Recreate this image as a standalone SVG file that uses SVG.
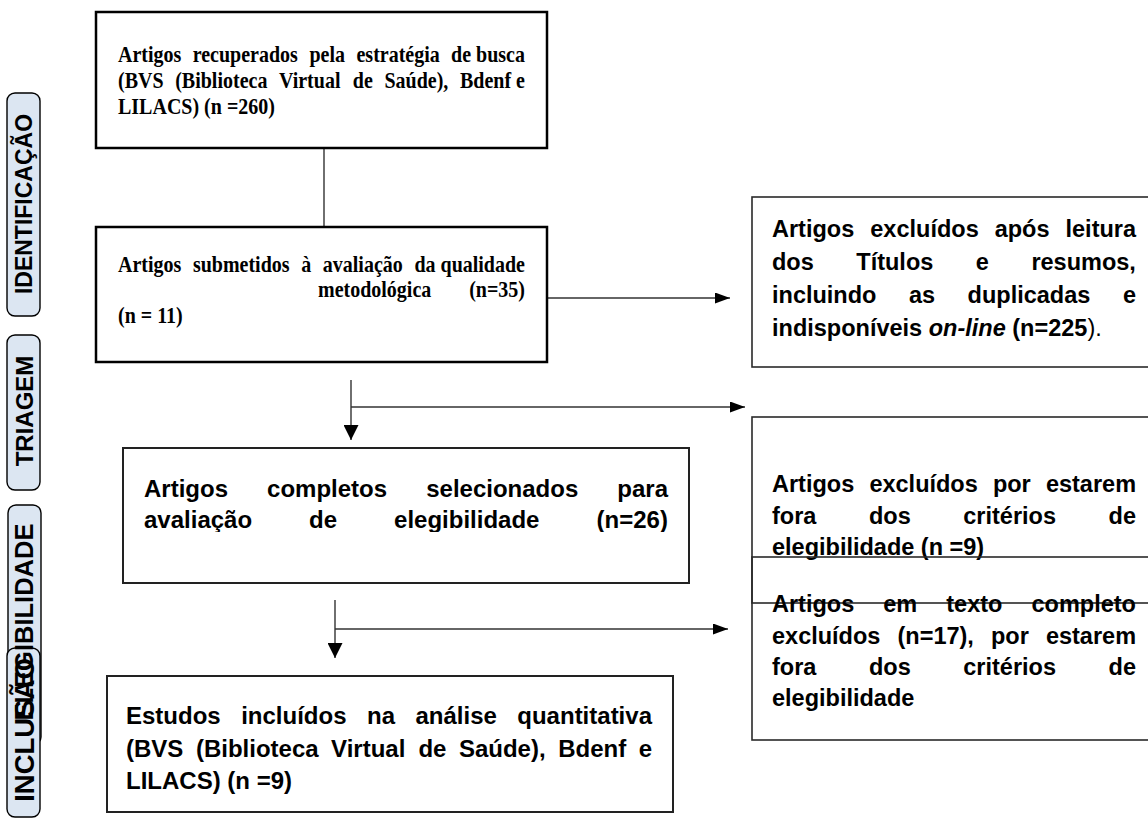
<svg xmlns="http://www.w3.org/2000/svg" width="1148" height="820" viewBox="0 0 1148 820">
<defs>
<style>
.serif{font-family:"Liberation Serif","Times New Roman",serif;font-weight:bold;font-size:20px;fill:#000}
.sans{font-family:"Liberation Sans",Arial,sans-serif;font-weight:bold;font-size:23.5px;fill:#000}
.sans24{font-family:"Liberation Sans",Arial,sans-serif;font-weight:bold;font-size:24px;fill:#000}
.side{font-family:"Liberation Sans",Arial,sans-serif;font-weight:bold;fill:#000}
.sidebox{fill:#dce6f2;stroke:#000;stroke-width:1.4}
.box1{fill:#fff;stroke:#000;stroke-width:2.5}
.box3{fill:#fff;stroke:#222;stroke-width:2}
.rbox{fill:none;stroke:#2a2a2a;stroke-width:1.6}
.conn{stroke:#333;stroke-width:1.4;fill:none}
</style>
<marker id="ahH" markerUnits="userSpaceOnUse" markerWidth="15" markerHeight="11" refX="15" refY="5.5" orient="auto"><path d="M0,0 L15,5.5 L0,11 z" fill="#000"/></marker>
<marker id="ahV" markerUnits="userSpaceOnUse" markerWidth="15" markerHeight="15" refX="15" refY="7.5" orient="auto"><path d="M0,0 L15,7.5 L0,15 z" fill="#000"/></marker>
<clipPath id="clip3"><rect x="123" y="448" width="566" height="84"/></clipPath>
</defs>
<rect width="1148" height="820" fill="#fff"/>

<g id="side-identificacao">
<rect class="sidebox" x="7" y="93" width="33" height="223" rx="8"/>
<text class="side" font-size="23" text-anchor="middle" transform="translate(32,204) rotate(-90)">IDENTIFICAÇÃO</text>
</g>
<g id="side-triagem">
<rect class="sidebox" x="7" y="335" width="33" height="155" rx="8"/>
<text class="side" font-size="24" text-anchor="middle" transform="translate(32.5,411) rotate(-90)">TRIAGEM</text>
</g>
<g id="side-elegibilidade">
<rect class="sidebox" x="8" y="505" width="33" height="240" rx="8"/>
</g>
<g id="side-inclusao">
<rect class="sidebox" x="7" y="648" width="33" height="169" rx="8"/>
<text class="side" font-size="27.5" text-anchor="middle" transform="translate(33.5,730) rotate(-90)">INCLUSÃO</text>
</g>
<g id="side-elegibilidade-label">
<text class="side" font-size="25.5" text-anchor="middle" transform="translate(33,622) rotate(-90)">ELEGIBILIDADE</text>
</g>

<g id="connectors">
<line class="conn" x1="324" y1="148" x2="324" y2="227" stroke="#000" stroke-width="2"/>
<line class="conn" x1="405" y1="298" x2="730" y2="298" marker-end="url(#ahH)"/>
<line class="conn" x1="351" y1="380" x2="351" y2="440" marker-end="url(#ahV)"/>
<line class="conn" x1="351" y1="407" x2="745" y2="407" marker-end="url(#ahH)"/>
<line class="conn" x1="335" y1="600" x2="335" y2="658" marker-end="url(#ahV)"/>
<line class="conn" x1="335" y1="629" x2="728" y2="629" marker-end="url(#ahH)"/>
</g>

<g id="box-recuperados">
<rect class="box1" x="96" y="12" width="451" height="136"/>
<text class="serif" y="62" transform="matrix(1 0 0 1.15 0 -9.3)"><tspan x="118">Artigos</tspan><tspan x="192.7">recuperados</tspan><tspan x="309.5">pela</tspan><tspan x="356.5">estratégia</tspan><tspan x="451.1">de busca</tspan></text>
<text class="serif" y="88" transform="matrix(1 0 0 1.15 0 -13.2)"><tspan x="118">(BVS</tspan><tspan x="175.2">(Biblioteca</tspan><tspan x="279">Virtual</tspan><tspan x="352.8">de</tspan><tspan x="384.4">Saúde),</tspan><tspan x="460">Bdenf e</tspan></text>
<text class="serif" x="118" y="114" transform="matrix(1 0 0 1.15 0 -17.1)">LILACS) (n =260)</text>
</g>

<g id="box-submetidos">
<rect class="box1" x="96" y="227" width="451" height="135" fill="none"/>
<text class="serif" y="272" transform="matrix(1 0 0 1.15 0 -40.8)"><tspan x="118">Artigos</tspan><tspan x="192.9">submetidos</tspan><tspan x="301.2">à</tspan><tspan x="322.8">avaliação</tspan><tspan x="414.4">da qualidade</tspan></text>
<text class="serif" y="297" transform="matrix(1 0 0 1.15 0 -44.55)"><tspan x="318">metodológica</tspan><tspan x="469.2">(n=35)</tspan></text>
<text class="serif" x="118" y="323" transform="matrix(1 0 0 1.15 0 -48.45)">(n = 11)</text>
</g>

<g id="box-excluidos-titulos">
<rect class="rbox" x="752" y="197" width="410" height="170"/>
<text class="sans" y="237"><tspan x="772">Artigos</tspan><tspan x="870.3">excluídos</tspan><tspan x="994.7">após</tspan><tspan x="1065.5">leitura</tspan></text>
<text class="sans" y="270"><tspan x="772">dos</tspan><tspan x="856.3">Títulos</tspan><tspan x="975.8">e</tspan><tspan x="1031.4">resumos,</tspan></text>
<text class="sans" y="303"><tspan x="772">incluindo</tspan><tspan x="909">as</tspan><tspan x="967.6">duplicadas</tspan><tspan x="1122.9">e</tspan></text>
<text class="sans" x="772" y="336">indisponíveis <tspan font-style="italic">on-line</tspan> (n=225<tspan font-weight="normal">).</tspan></text>
</g>

<g id="box-completos">
<rect class="box3" x="123" y="448" width="566" height="135"/>
<g clip-path="url(#clip3)">
<text class="sans24" y="497"><tspan x="144">Artigos</tspan><tspan x="267.1">completos</tspan><tspan x="426.2">selecionados</tspan><tspan x="617.3">para</tspan></text>
<text class="sans24" y="528"><tspan x="144">avaliação</tspan><tspan x="309.1">de</tspan><tspan x="394.1">elegibilidade</tspan><tspan x="596.6">(n=26)</tspan></text>
</g>
</g>

<g id="box-excluidos-criterios">
<rect class="rbox" x="752" y="417" width="410" height="186"/>
<text class="sans" y="492"><tspan x="772">Artigos</tspan><tspan x="869.4">excluídos</tspan><tspan x="992.9">por</tspan><tspan x="1045.9">estarem</tspan></text>
<text class="sans" y="524"><tspan x="772">fora</tspan><tspan x="869">dos</tspan><tspan x="963.3">critérios</tspan><tspan x="1108.6">de</tspan></text>
<text class="sans" x="772" y="555">elegibilidade (n =9)</text>
</g>

<g id="box-excluidos-texto">
<rect class="rbox" x="752" y="557" width="410" height="183"/>
<text class="sans" y="612"><tspan x="772">Artigos</tspan><tspan x="883.3">em</tspan><tspan x="946.3">texto</tspan><tspan x="1031.5">completo</tspan></text>
<text class="sans" y="644"><tspan x="772">excluídos</tspan><tspan x="897.5">(n=17),</tspan><tspan x="991">por</tspan><tspan x="1045.9">estarem</tspan></text>
<text class="sans" y="675"><tspan x="772">fora</tspan><tspan x="869">dos</tspan><tspan x="963.3">critérios</tspan><tspan x="1108.6">de</tspan></text>
<text class="sans" x="772" y="706">elegibilidade</text>
</g>

<g id="box-incluidos">
<rect class="box3" x="107" y="676" width="566" height="136" stroke-width="1.8"/>
<text class="sans24" y="724"><tspan x="126">Estudos</tspan><tspan x="241.2">incluídos</tspan><tspan x="367">na</tspan><tspan x="415.5">análise</tspan><tspan x="517.3">quantitativa</tspan></text>
<text class="sans24" y="757"><tspan x="126">(BVS</tspan><tspan x="195.9">(Biblioteca</tspan><tspan x="331.1">Virtual</tspan><tspan x="418.4">de</tspan><tspan x="458.9">Saúde),</tspan><tspan x="558.2">Bdenf</tspan><tspan x="638.7">e</tspan></text>
<text class="sans24" x="126" y="789">LILACS) (n =9)</text>
</g>
</svg>
